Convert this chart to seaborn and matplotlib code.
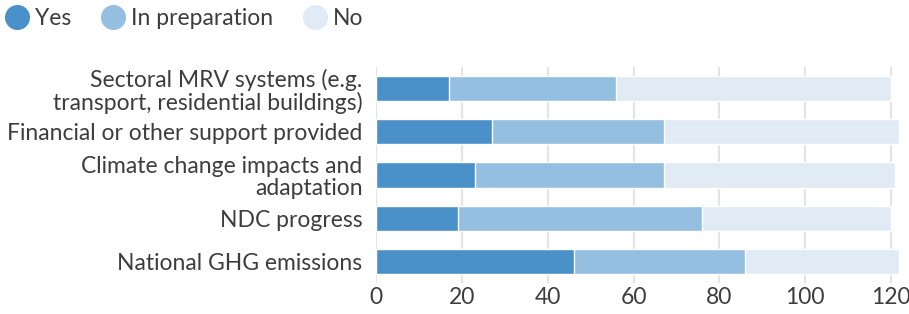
import matplotlib
matplotlib.use("Agg")
import matplotlib.pyplot as plt
from matplotlib.lines import Line2D
import seaborn as sns
import numpy as np
import pandas as pd

categories = [
    "Sectoral MRV systems (e.g.\ntransport, residential buildings)",
    "Financial or other support provided",
    "Climate change impacts and\nadaptation",
    "NDC progress",
    "National GHG emissions",
]
yes = [17, 27, 23, 19, 46]
in_preparation = [39, 40, 44, 57, 40]
no = [64, 55, 54, 44, 36]

series_names = ["Yes", "In preparation", "No"]
colors = ["#4a90c9", "#95bfe1", "#e1ebf5"]
text_color = "#3d3d3d"

sns.set_theme(style="white")
plt.rcParams["font.family"] = ["Lato", "DejaVu Sans"]

df = pd.DataFrame({"category": categories, "Yes": yes,
                   "In preparation": in_preparation, "No": no})
df["cum_prep"] = df["Yes"] + df["In preparation"]
df["cum_no"] = df["cum_prep"] + df["No"]

fig = plt.figure(figsize=(9.09, 3.14), dpi=100)
ax = fig.add_axes([376.3 / 909, 31 / 314, (908 - 376.3) / 909, 216 / 314])

# stacked bars: draw cumulative totals back to front
for col, color in zip(["cum_no", "cum_prep", "Yes"], colors[::-1]):
    sns.barplot(data=df, x=col, y="category", orient="h", color=color,
                width=0.58, saturation=1, ax=ax, zorder=3)

ax.set_xlim(0, 124)
ax.set_ylim(4.5, -0.5)
ax.set_xticks([0, 20, 40, 60, 80, 100, 120])
ax.xaxis.grid(True, color="#e4e4e4", linewidth=1.6, zorder=0)
ax.set_axisbelow(True)
for s in ax.spines.values():
    s.set_visible(False)
ax.set_xlabel("")
ax.set_ylabel("")
ax.tick_params(axis="both", length=0, labelsize=16.5, colors=text_color)
ax.tick_params(axis="x", pad=3)
ax.tick_params(axis="y", pad=10)
for lbl in ax.get_yticklabels():
    lbl.set_horizontalalignment("right")
    lbl.set_linespacing(1.08)

handles = [Line2D([], [], marker="o", linestyle="", markersize=17,
                  markerfacecolor=c, markeredgecolor=c) for c in colors]
fig.legend(handles, series_names, loc="upper left", bbox_to_anchor=(-0.019, 1.04),
           ncol=3, frameon=False, fontsize=16.5, handletextpad=0.2,
           columnspacing=1.2, handlelength=1.2, labelcolor=text_color)

fig.savefig("out.png", dpi=100)
plt.close(fig)
